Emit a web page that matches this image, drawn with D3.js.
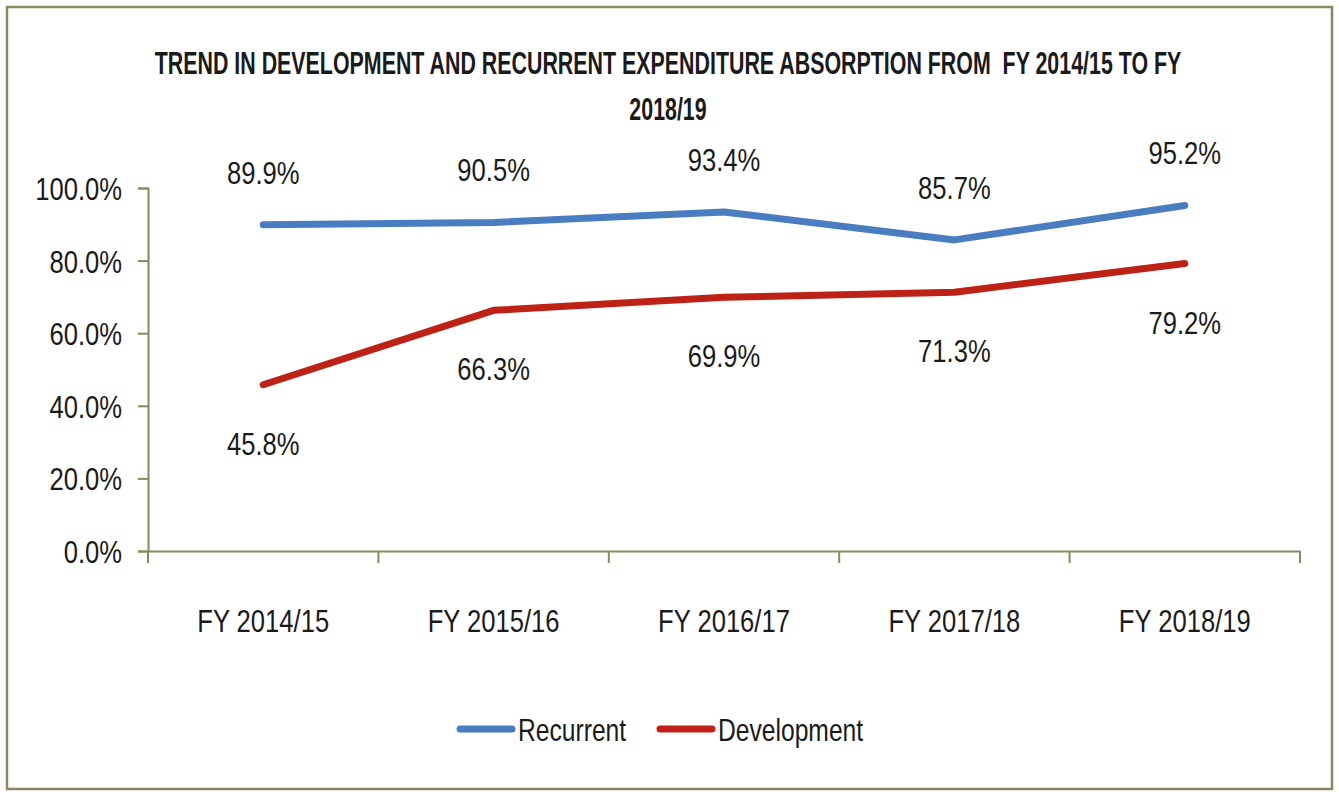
<!doctype html>
<html>
<head>
<meta charset="utf-8">
<title>expenditure absorption</title>
<script src="https://d3js.org/d3.v7.min.js"></script>
<style>
  body { margin:0; background:#fff; }
  text { font-family:"Liberation Sans", Arial, sans-serif; fill:#1a1a1a; }
</style>
</head>
<body>
<svg></svg>
<script>
let w = 1339, h = 792;

let years = ['FY 2014/15', 'FY 2015/16', 'FY 2016/17', 'FY 2017/18', 'FY 2018/19'];
let recurrent = [89.9, 90.5, 93.4, 85.7, 95.2];
let development = [45.8, 66.3, 69.9, 71.3, 79.2];
let yTicks = [0, 20, 40, 60, 80, 100];

// turn x/y of a text into a translate + horizontal squeeze (Calibri-like width)
function squeeze(sel, k) {
  k = k || 0.8;
  sel.each(function() {
    let t = d3.select(this);
    let x = +t.attr('x') || 0, y = +t.attr('y') || 0;
    t.attr('x', null).attr('y', null)
     .attr('transform', 'translate(' + x + ',' + y + ') scale(' + k + ',1)');
  });
}

let svg = d3.select('svg').attr('width', w).attr('height', h);

svg.append('rect')
   .attr('x', 7).attr('y', 7)
   .attr('width', 1325).attr('height', 782)
   .attr('fill', 'none')
   .attr('stroke', '#8b8762')
   .attr('stroke-width', 2.5);

let xScale = d3.scaleBand().domain(years).range([148, 1300]);
let yScale = d3.scaleLinear().domain([0, 100]).range([551, 188]);

// title
let title = svg.append('g').style('font-weight', 'bold').style('font-size', '31px');
title.append('text')
     .attr('x', 668).attr('y', 74)
     .attr('text-anchor', 'middle')
     .style('white-space', 'pre')
     .text('TREND IN DEVELOPMENT AND RECURRENT EXPENDITURE ABSORPTION FROM  FY 2014/15 TO FY');
title.append('text')
     .attr('x', 668).attr('y', 120)
     .attr('text-anchor', 'middle')
     .text('2018/19');
title.selectAll('text').call(squeeze, 0.69);

// axes
let yAxis = svg.append('g')
   .attr('transform', 'translate(148,0)')
   .call(d3.axisLeft(yScale).tickValues(yTicks).tickSize(10).tickPadding(16)
           .tickFormat(d => d.toFixed(1) + '%'));
yAxis.select('.domain').attr('stroke', '#8b8762').attr('stroke-width', 2);
yAxis.selectAll('line').attr('stroke', '#8b8762').attr('stroke-width', 2);
yAxis.selectAll('text').style('font-size', '32px').attr('fill', '#1a1a1a')
     .attr('dy', '0.36em').call(squeeze);

let xAxis = svg.append('g')
   .attr('transform', 'translate(0,551)')
   .call(d3.axisBottom(xScale).tickSize(0).tickPadding(58));
xAxis.select('.domain').attr('stroke', '#8b8762').attr('stroke-width', 2);
xAxis.selectAll('text').style('font-size', '32px').attr('fill', '#1a1a1a').call(squeeze);
// category boundary ticks
svg.append('g').selectAll('line')
   .data(years.concat(['end']))
   .enter().append('line')
   .attr('x1', (d, i) => 148 + i * xScale.bandwidth())
   .attr('x2', (d, i) => 148 + i * xScale.bandwidth())
   .attr('y1', 551).attr('y2', 563)
   .attr('stroke', '#8b8762').attr('stroke-width', 2);

let cx = d => xScale(d) + xScale.bandwidth() / 2;
let line = d3.line().x(d => cx(d[0])).y(d => yScale(d[1]));

let series = [
  { name: 'Recurrent', values: recurrent, color: '#4a7dc0', dy: -41 },
  { name: 'Development', values: development, color: '#be2217', dy: 70 }
];

series.forEach(function(s) {
  let pts = years.map((y, i) => [y, s.values[i]]);
  svg.append('path')
     .attr('d', line(pts))
     .attr('fill', 'none')
     .attr('stroke', s.color)
     .attr('stroke-width', 7)
     .attr('stroke-linecap', 'round')
     .attr('stroke-linejoin', 'round');
  svg.append('g').selectAll('text')
     .data(pts)
     .enter().append('text')
     .attr('x', d => cx(d[0]))
     .attr('y', d => yScale(d[1]) + s.dy)
     .attr('text-anchor', 'middle')
     .style('font-size', '32px')
     .text(d => d[1].toFixed(1) + '%')
     .call(squeeze);
});

// legend
let legX = [460, 660];
series.forEach(function(s, i) {
  let g = svg.append('g').attr('transform', 'translate(' + legX[i] + ',729)');
  g.append('line')
   .attr('x1', 0).attr('x2', 52)
   .attr('stroke', s.color).attr('stroke-width', 7).attr('stroke-linecap', 'round');
  g.append('text')
   .attr('x', 58).attr('y', 12)
   .style('font-size', '32px')
   .text(s.name)
   .call(squeeze, 0.77);
});
</script>
</body>
</html>
